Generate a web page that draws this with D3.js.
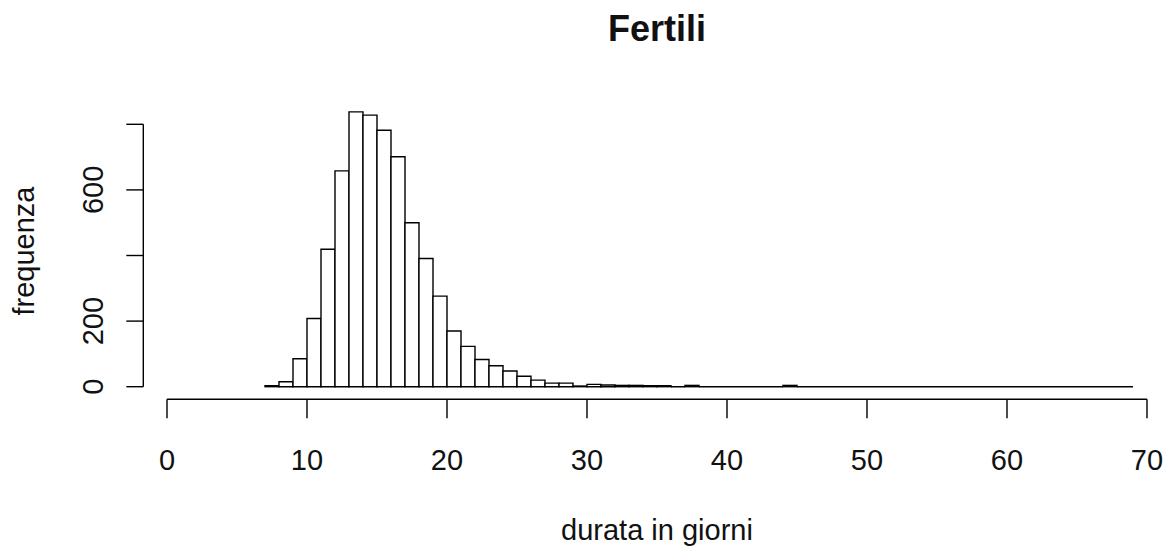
<!DOCTYPE html>
<html>
<head>
<meta charset="utf-8">
<script src="https://cdn.jsdelivr.net/npm/d3@7"></script>
<style>
  body { margin: 0; background: #fff; }
  text { font-family: "Liberation Sans", Arial, sans-serif; fill: #111; }
</style>
</head>
<body>
<div id="chart"></div>
<script>

// bin starts (width 1 day) and counts
var binStart = [7, 8, 9, 10, 11, 12, 13, 14, 15, 16, 17, 18, 19, 20, 21, 22, 23, 24, 25, 26,
                27, 28, 29, 30, 31, 32, 33, 34, 35, 36, 37, 38, 39, 40, 41, 42, 43, 44, 45, 46,
                47, 48, 49, 50, 51, 52, 53, 54, 55, 56, 57, 58, 59, 60, 61, 62, 63, 64, 65, 66,
                67, 68];
var counts = [3, 15, 85, 208, 419, 658, 838, 828, 782, 701, 500, 391, 276, 170, 123, 83, 64, 48, 32, 20,
              11, 11, 2, 7, 5, 4, 4, 3, 3, 0, 4, 0, 0, 0, 0, 0, 0, 4, 0, 0,
              0, 0, 0, 0, 0, 0, 0, 0, 0, 0, 0, 0, 0, 0, 0, 0, 0, 0, 0, 0,
              0, 0];
var xTicks = [0, 10, 20, 30, 40, 50, 60, 70];
var yTicks = [0, 200, 400, 600, 800];
var yLabels = [0, 200, 600];   // R drops the labels that would overlap

var width = 1167, height = 546;

var xScale = d3.scaleLinear()
    .domain([0, 70])
    .range([167, 1147]);

var yScale = d3.scaleLinear()
    .domain([0, 800])
    .range([386.7, 124.3]);

var svg = d3.select("#chart").append("svg")
    .attr("width", width)
    .attr("height", height);

// bars (zero counts still draw as a flat line, like R does)
svg.selectAll("path.bar")
    .data(binStart)
    .enter().append("path")
    .attr("class", "bar")
    .attr("d", function(d, i) {
        var x0 = xScale(d), x1 = xScale(d + 1);
        var y0 = yScale(0), y1 = yScale(counts[i]);
        return "M" + x0 + "," + y0 + "V" + y1 + "H" + x1 + "V" + y0 + "Z";
    })
    .attr("fill", "#fff")
    .attr("stroke", "#000")
    .attr("stroke-width", 1.4);

// x axis
var xAxis = svg.append("g").attr("transform", "translate(0,399.3)");
xAxis.append("line")
    .attr("x1", xScale(0)).attr("x2", xScale(70))
    .attr("stroke", "#000").attr("stroke-width", 1.4);
xAxis.selectAll("line.tick")
    .data(xTicks)
    .enter().append("line")
    .attr("class", "tick")
    .attr("x1", function(d) { return xScale(d); })
    .attr("x2", function(d) { return xScale(d); })
    .attr("y1", 0).attr("y2", 19)
    .attr("stroke", "#000").attr("stroke-width", 1.4);
xAxis.selectAll("text")
    .data(xTicks)
    .enter().append("text")
    .attr("x", function(d) { return xScale(d); })
    .attr("y", 70.7)
    .attr("text-anchor", "middle")
    .style("font-size", "29px")
    .text(function(d) { return d; });

// y axis
var yAxis = svg.append("g").attr("transform", "translate(143.3,0)");
yAxis.append("line")
    .attr("y1", yScale(0)).attr("y2", yScale(800))
    .attr("stroke", "#000").attr("stroke-width", 1.4);
yAxis.selectAll("line.tick")
    .data(yTicks)
    .enter().append("line")
    .attr("class", "tick")
    .attr("y1", function(d) { return yScale(d); })
    .attr("y2", function(d) { return yScale(d); })
    .attr("x1", 0).attr("x2", -17)
    .attr("stroke", "#000").attr("stroke-width", 1.4);
yAxis.selectAll("text")
    .data(yLabels)
    .enter().append("text")
    .attr("transform", function(d) { return "translate(-40.3," + yScale(d) + ") rotate(-90)"; })
    .attr("text-anchor", "middle")
    .style("font-size", "29px")
    .text(function(d) { return d; });

// titles
svg.append("text")
    .attr("x", 657)
    .attr("y", 40.7)
    .attr("text-anchor", "middle")
    .style("font-size", "36px")
    .style("font-weight", "bold")
    .text("Fertili");

svg.append("text")
    .attr("x", 657)
    .attr("y", 540)
    .attr("text-anchor", "middle")
    .style("font-size", "29px")
    .text("durata in giorni");

svg.append("text")
    .attr("transform", "translate(34,251) rotate(-90)")
    .attr("text-anchor", "middle")
    .style("font-size", "29px")
    .text("frequenza");

</script>
</body>
</html>
